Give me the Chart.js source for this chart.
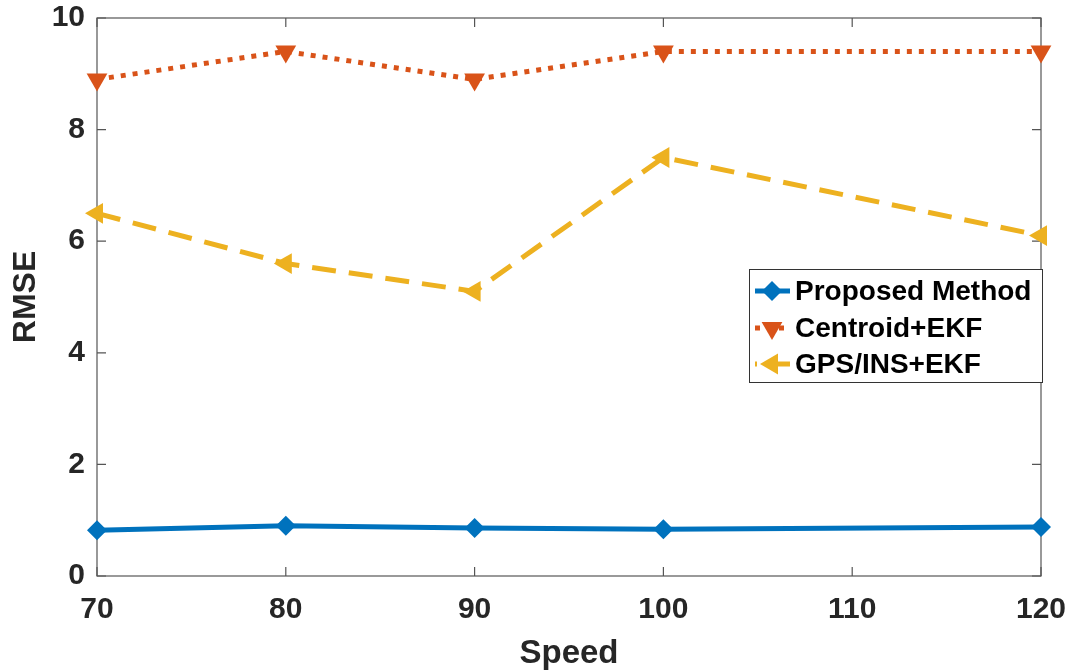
<!DOCTYPE html>
<html><head><meta charset="utf-8">
<script src="https://cdn.jsdelivr.net/npm/chart.js@4/dist/chart.umd.min.js"></script>
<style>html,body{margin:0;padding:0;background:#fff}#wrap{width:1074px;height:672px}</style>
</head><body><div id="wrap"><canvas id="c" width="1074" height="672"></canvas></div>
<script>
const speeds = [70, 80, 90, 100, 120];
const proposed = [0.82, 0.90, 0.86, 0.84, 0.88];
const centroid = [8.9, 9.4, 8.9, 9.4, 9.4];
const gpsins = [6.5, 5.6, 5.1, 7.5, 6.1];
const xTicks = [70, 80, 90, 100, 110, 120];
const yTicks = [0, 2, 4, 6, 8, 10];
const names = ['Proposed Method', 'Centroid+EKF', 'GPS/INS+EKF'];

const FONT = "'Liberation Sans', Arial, sans-serif";
const TXT = '#262626';

const toPts = arr => arr.map((v, i) => ({x: speeds[i], y: v}));

const frame = {
  id: 'frame',
  beforeDatasetsDraw(chart) {
    const {ctx, chartArea: a, scales: {x, y}} = chart;
    ctx.save();
    ctx.strokeStyle = '#555';
    ctx.lineWidth = 1.2;
    ctx.strokeRect(a.left, a.top, a.right - a.left, a.bottom - a.top);
    ctx.beginPath();
    xTicks.forEach(t => {
      const px = x.getPixelForValue(t);
      ctx.moveTo(px, a.bottom); ctx.lineTo(px, a.bottom - 9);
      ctx.moveTo(px, a.top); ctx.lineTo(px, a.top + 9);
    });
    yTicks.forEach(t => {
      const py = y.getPixelForValue(t);
      ctx.moveTo(a.left, py); ctx.lineTo(a.left + 9, py);
      ctx.moveTo(a.right, py); ctx.lineTo(a.right - 9, py);
    });
    ctx.stroke();
    ctx.restore();
  },
  afterDraw(chart) {
    const {ctx} = chart;
    const bx = 749, by = 269, bw = 293, bh = 113;
    ctx.save();
    ctx.fillStyle = '#fff';
    ctx.fillRect(bx, by, bw, bh);
    ctx.strokeStyle = '#333';
    ctx.lineWidth = 1;
    ctx.strokeRect(bx + 0.5, by + 0.5, bw, bh);
    const rows = [291, 328, 364];
    const dashOffsets = [0, 0, 22];
    chart.data.datasets.forEach((ds, i) => {
      const yy = rows[i];
      ctx.save();
      ctx.strokeStyle = ds.borderColor;
      ctx.lineWidth = ds.borderWidth;
      ctx.setLineDash(ds.borderDash || []);
      ctx.lineDashOffset = dashOffsets[i];
      ctx.beginPath(); ctx.moveTo(755, yy); ctx.lineTo(790, yy); ctx.stroke();
      ctx.restore();
      ctx.save();
      ctx.fillStyle = ds.backgroundColor;
      ctx.strokeStyle = ds.backgroundColor;
      Chart.helpers.drawPoint(ctx, {pointStyle: ds.pointStyle, radius: ds.pointRadius, rotation: ds.pointRotation || 0, borderWidth: 0}, 772, yy);
      ctx.restore();
      ctx.fillStyle = '#000';
      ctx.font = 'bold 28px ' + FONT;
      ctx.textBaseline = 'middle';
      ctx.textAlign = 'left';
      ctx.fillText(ds.label, 795, yy + 1);
    });
    ctx.restore();
  }
};

new Chart(document.getElementById('c'), {
  type: 'line',
  data: {
    datasets: [
      {label: names[0], data: toPts(proposed), borderColor: '#0072BD', backgroundColor: '#0072BD',
       borderWidth: 5, pointStyle: 'rectRot', pointRadius: 10, pointBorderWidth: 0, clip: false},
      {label: names[1], data: toPts(centroid), borderColor: '#D95319', backgroundColor: '#D95319',
       borderWidth: 5, borderDash: [5, 7], pointStyle: 'triangle', pointRotation: 180, pointRadius: 12, pointBorderWidth: 0, clip: false},
      {label: names[2], data: toPts(gpsins), borderColor: '#EDB120', backgroundColor: '#EDB120',
       borderWidth: 5, borderDash: [24, 13], pointStyle: 'triangle', pointRotation: 270, pointRadius: 12, pointBorderWidth: 0, clip: false}
    ]
  },
  options: {
    responsive: false, animation: false, devicePixelRatio: 1,
    layout: {padding: {left: 0, right: 33, top: 18, bottom: 0}},
    plugins: {legend: {display: false}, tooltip: {enabled: false}},
    scales: {
      x: {type: 'linear', min: 70, max: 120,
        afterBuildTicks: s => { s.ticks = xTicks.map(v => ({value: v})); },
        afterFit: s => { s.height = 96; s.paddingLeft = 0; s.paddingRight = 0; },
        grid: {display: false, drawTicks: false}, border: {display: false},
        ticks: {color: TXT, font: {family: FONT, size: 30, weight: 'bold'}, padding: 16, maxRotation: 0, autoSkip: false},
        title: {display: true, text: 'Speed', color: TXT, font: {family: FONT, size: 33, weight: 'bold'}, padding: {top: 0, bottom: -2}}
      },
      y: {min: 0, max: 10,
        afterBuildTicks: s => { s.ticks = yTicks.map(v => ({value: v})); },
        afterFit: s => { s.width = 97; s.paddingTop = 0; s.paddingBottom = 0; },
        grid: {display: false, drawTicks: false}, border: {display: false},
        ticks: {color: TXT, font: {family: FONT, size: 30, weight: 'bold'}, padding: 12, autoSkip: false},
        title: {display: true, text: 'RMSE', color: TXT, font: {family: FONT, size: 32, weight: 'bold'}, padding: {top: 7, bottom: 0}}
      }
    }
  },
  plugins: [frame]
});
</script></body></html>
